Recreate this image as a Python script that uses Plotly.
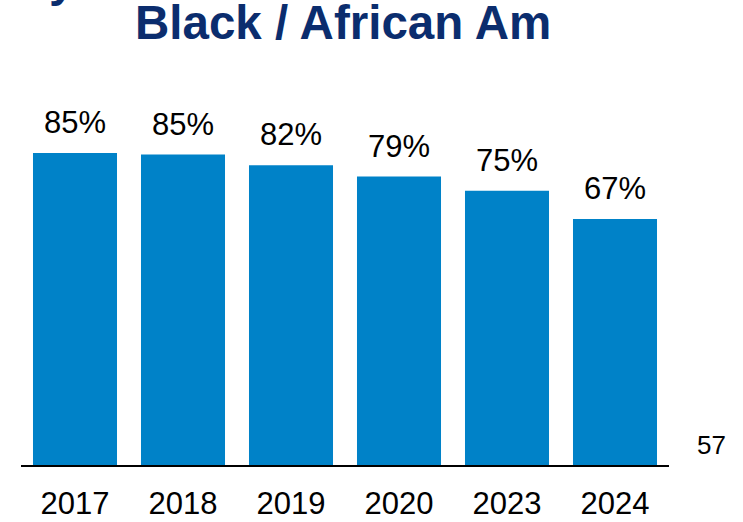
import plotly.graph_objects as go

years = ["2017", "2018", "2019", "2020", "2023", "2024"]
values = [85.0, 84.6, 81.7, 78.6, 74.7, 67.0]
labels = ["85%", "85%", "82%", "79%", "75%", "67%"]
title_text = "Black / African Am"
side_note = "57"

BAR = "#0082c8"
NAVY = "#0b2d6e"
FONT = "Arial, Liberation Sans, sans-serif"

W, H = 743, 522
PL, PR, PT, PB = 21, 669, 98, 465          # plot area in page pixels
ML, MT = PL, PT
MR, MB = W - PR, H - PB
PW, PH = PR - PL, PB - PT

def px_x(x):
    return (x - PL) / PW

def px_y(y):
    return (PB - y) / PH

fig = go.Figure(go.Bar(
    x=years, y=values, marker_color=BAR, marker_line_width=0,
    hoverinfo="skip",
))

annotations = []
for i, (v, lab) in enumerate(zip(values, labels)):
    annotations.append(dict(
        x=i, y=v, xref="x", yref="y", text=lab, showarrow=False,
        yanchor="bottom", yshift=11,
        font=dict(family=FONT, size=31, color="#000000"),
    ))

annotations.append(dict(
    x=px_x(343), y=px_y(51), xref="paper", yref="paper",
    text="<b>" + title_text + "</b>", showarrow=False,
    xanchor="center", yanchor="bottom",
    font=dict(family=FONT, size=47.5, color=NAVY),
))
annotations.append(dict(
    x=px_x(47), y=px_y(8), xref="paper", yref="paper",
    text="<b>y</b>", showarrow=False,
    xanchor="left", yanchor="bottom",
    font=dict(family=FONT, size=47.5, color=NAVY),
))
annotations.append(dict(
    x=px_x(711), y=px_y(445), xref="paper", yref="paper",
    text=side_note, showarrow=False,
    xanchor="center", yanchor="middle",
    font=dict(family=FONT, size=26, color="#000000"),
))

fig.update_layout(
    width=W, height=H,
    margin=dict(l=ML, r=MR, t=MT, b=MB, pad=0, autoexpand=False),
    plot_bgcolor="white", paper_bgcolor="white",
    bargap=0.222,
    showlegend=False,
    annotations=annotations,
    xaxis=dict(
        type="category", range=[-0.5, len(years) - 0.5], automargin=False,
        showline=True, linecolor="#000000", linewidth=2,
        showgrid=False, zeroline=False, ticks="", ticklabelstandoff=10,
        tickfont=dict(family=FONT, size=31, color="#000000"),
        fixedrange=True,
    ),
    yaxis=dict(
        range=[0, 100], visible=False, showgrid=False, zeroline=False,
        fixedrange=True, automargin=False,
    ),
)

fig.write_html(
    "out.html",
    config={"displayModeBar": False},
    post_script="document.body.style.margin='0';document.body.style.overflow='hidden';",
)
